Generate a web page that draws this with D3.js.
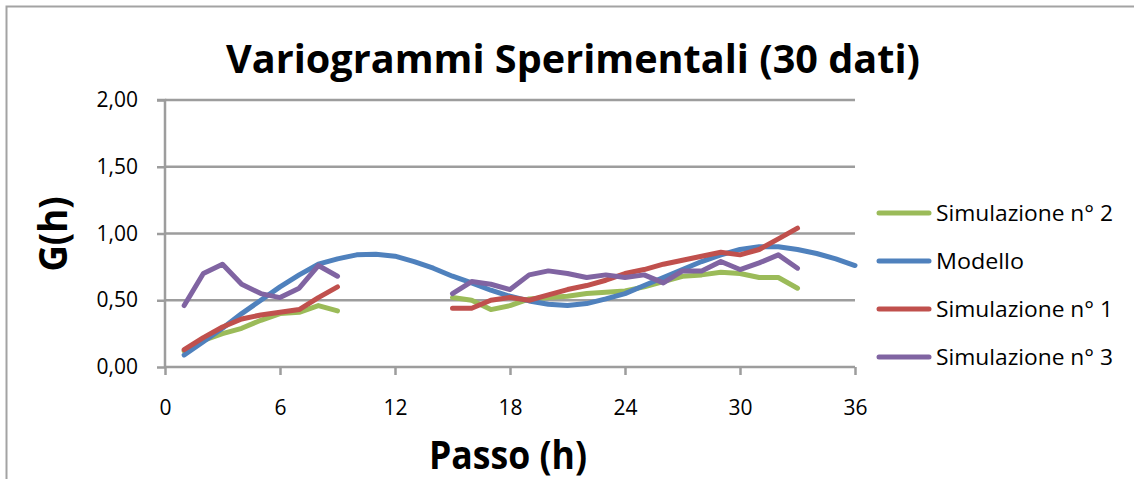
<!DOCTYPE html>
<html>
<head>
<meta charset="utf-8">
<script src="https://cdn.jsdelivr.net/npm/d3@7"></script>
<style>
  html, body { margin: 0; padding: 0; background: #fff; }
  svg { display: block; }
  text { font-family: "Open Sans", "Noto Sans", sans-serif; fill: #000; }
</style>
</head>
<body>
<svg id="chart" width="1134" height="479"></svg>
<script>
// ---- Data ----
const title = "Variogrammi Sperimentali (30 dati)";
const xTitle = "Passo (h)";
const yTitle = "G(h)";
const xTicks = [0, 6, 12, 18, 24, 30, 36];
const yTicks = [0, 0.5, 1.0, 1.5, 2.0];

const hModel = d3.range(1, 37);
const modello = [0.09, 0.19, 0.29, 0.40, 0.50, 0.60, 0.69, 0.77, 0.81, 0.84,
                 0.845, 0.83, 0.79, 0.74, 0.68, 0.63, 0.575, 0.53, 0.495, 0.47,
                 0.46, 0.475, 0.51, 0.55, 0.61, 0.67, 0.73, 0.79, 0.84, 0.88,
                 0.90, 0.90, 0.88, 0.85, 0.81, 0.76];

const hSim = d3.range(1, 34);
// null = no value (lags 10-14)
const sim2 = [0.12, 0.20, 0.25, 0.29, 0.35, 0.40, 0.41, 0.46, 0.42,
              null, null, null, null, null,
              0.52, 0.50, 0.43, 0.46, 0.51, 0.52, 0.53, 0.55, 0.56, 0.57,
              0.60, 0.64, 0.68, 0.69, 0.71, 0.70, 0.67, 0.67, 0.59];
const sim1 = [0.13, 0.22, 0.30, 0.36, 0.39, 0.41, 0.43, 0.52, 0.60,
              null, null, null, null, null,
              0.44, 0.44, 0.50, 0.52, 0.50, 0.54, 0.58, 0.61, 0.65, 0.70,
              0.73, 0.77, 0.80, 0.83, 0.86, 0.84, 0.88, 0.96, 1.04];
const sim3 = [0.46, 0.70, 0.77, 0.62, 0.55, 0.52, 0.59, 0.76, 0.68,
              null, null, null, null, null,
              0.55, 0.64, 0.62, 0.58, 0.69, 0.72, 0.70, 0.67, 0.69, 0.67,
              0.69, 0.63, 0.72, 0.72, 0.79, 0.73, 0.78, 0.84, 0.74];

const seriesNames = ["Simulazione n° 2", "Modello", "Simulazione n° 1", "Simulazione n° 3"];
const seriesColors = ["#9BBB59", "#4F81BD", "#C0504D", "#8064A2"];

const series = [
  { name: seriesNames[0], color: seriesColors[0], xs: hSim, ys: sim2 },
  { name: seriesNames[1], color: seriesColors[1], xs: hModel, ys: modello },
  { name: seriesNames[2], color: seriesColors[2], xs: hSim, ys: sim1 },
  { name: seriesNames[3], color: seriesColors[3], xs: hSim, ys: sim3 }
];

// ---- Layout ----
const svg = d3.select("#chart");
const plot = { left: 165, right: 855, top: 100, bottom: 367 };
const gridColor = "#9d9d9d";

const x = d3.scaleLinear().domain([0, 36]).range([plot.left, plot.right]);
const y = d3.scaleLinear().domain([0, 2]).range([plot.bottom, plot.top]);

// chart border
svg.append("rect")
  .attr("x", 6.5).attr("y", 6.5).attr("width", 1200).attr("height", 600)
  .attr("fill", "none").attr("stroke", "#a3a3a3").attr("stroke-width", 2);

// gridlines
svg.append("g").selectAll("line").data(yTicks.filter(d => d > 0)).join("line")
  .attr("x1", plot.left).attr("x2", plot.right)
  .attr("y1", d => y(d)).attr("y2", d => y(d))
  .attr("stroke", gridColor).attr("stroke-width", 2.5);

// y axis
const yAxis = svg.append("g").attr("transform", `translate(${plot.left},0)`)
  .call(d3.axisLeft(y).tickValues(yTicks).tickSize(8).tickPadding(19)
    .tickFormat(d => d.toFixed(2).replace(".", ",")));
// x axis
const xAxis = svg.append("g").attr("transform", `translate(0,${plot.bottom})`)
  .call(d3.axisBottom(x).tickValues(xTicks).tickSize(8).tickPadding(25));

[xAxis, yAxis].forEach(g => {
  g.select(".domain").attr("stroke", gridColor).attr("stroke-width", 2.5);
  g.selectAll(".tick line").attr("stroke", gridColor).attr("stroke-width", 2.5);
  g.selectAll(".tick text").attr("font-size", 21)
    .attr("font-family", "'Open Sans', sans-serif").attr("fill", "#000");
});
yAxis.select(".domain").attr("d", `M-8,${y(2)}H0V${y(0)}`);
xAxis.select(".domain").attr("d", `M${plot.left},0H${plot.right}`);

// series lines
const line = d3.line()
  .defined(d => d[1] != null)
  .x(d => x(d[0])).y(d => y(d[1]));

svg.append("g").selectAll("path").data(series).join("path")
  .attr("d", s => line(s.xs.map((h, i) => [h, s.ys[i]])))
  .attr("fill", "none")
  .attr("stroke", s => s.color)
  .attr("stroke-width", 5)
  .attr("stroke-linejoin", "round")
  .attr("stroke-linecap", "round");

// title
svg.append("text").text(title)
  .attr("x", 573).attr("y", 73).attr("text-anchor", "middle")
  .attr("font-size", 39).attr("font-weight", "bold")
  .attr("textLength", 694).attr("lengthAdjust", "spacingAndGlyphs");

// axis titles
svg.append("text").text(xTitle)
  .attr("x", 508).attr("y", 469).attr("text-anchor", "middle")
  .attr("font-size", 39).attr("font-weight", "bold")
  .attr("textLength", 158).attr("lengthAdjust", "spacingAndGlyphs");

svg.append("text").text(yTitle)
  .attr("transform", "translate(67,234) rotate(-90)")
  .attr("text-anchor", "middle")
  .attr("font-size", 39).attr("font-weight", "bold")
  .attr("textLength", 75).attr("lengthAdjust", "spacingAndGlyphs");

// legend
const legendTop = 213, legendStep = 48;
const legendWidths = [177, 88, 177, 177];
const lg = svg.append("g").selectAll("g").data(series).join("g")
  .attr("transform", (s, i) => `translate(877,${legendTop + i * legendStep})`);
lg.append("line").attr("x1", 2).attr("x2", 52).attr("y1", 0).attr("y2", 0)
  .attr("stroke", s => s.color).attr("stroke-width", 5).attr("stroke-linecap", "round");
lg.append("text").text(s => s.name)
  .attr("x", 59).attr("y", 8)
  .attr("font-size", 21)
  .attr("textLength", (s, i) => legendWidths[i]).attr("lengthAdjust", "spacingAndGlyphs");
</script>
</body>
</html>
